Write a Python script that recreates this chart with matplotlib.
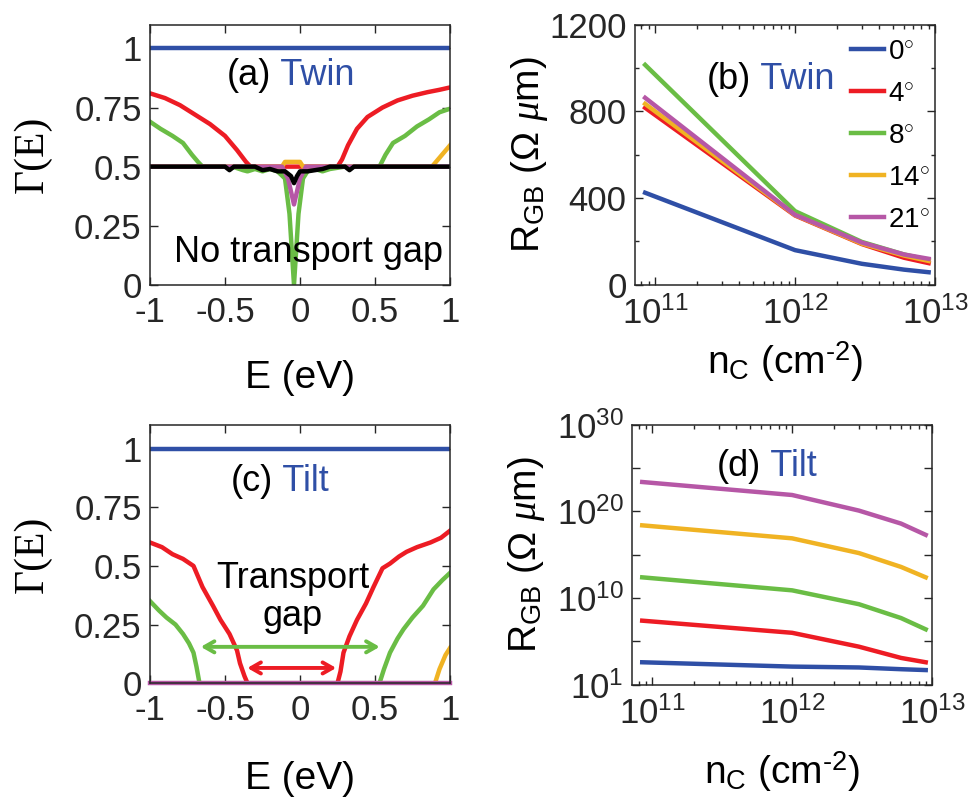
import numpy as np
import matplotlib
matplotlib.use("Agg")
import matplotlib.pyplot as plt
from matplotlib.ticker import FixedLocator, FixedFormatter

plt.rcParams['font.family'] = ['Liberation Sans', 'DejaVu Sans']
plt.rcParams['mathtext.fontset'] = 'custom'
plt.rcParams['mathtext.rm'] = 'Liberation Sans'
plt.rcParams['mathtext.sf'] = 'Liberation Sans'
plt.rcParams['mathtext.it'] = 'Liberation Serif:italic'

# colours (MATLAB-like)
c_blue = '#2F4FA6'
c_red = '#ED1C24'
c_green = '#6ABD45'
c_orange = '#F0B323'
c_purple = '#B657A6'
c_axis = '#262626'

angles = ['0', '4', '8', '14', '21']

# ---- (a) Twin: transmission vs energy ----
a_red_E = [-1, -0.9, -0.8, -0.7, -0.6, -0.5, -0.42, -0.36, -0.33, 0.25, 0.28, 0.32, 0.38, 0.45, 0.55, 0.65, 0.75, 0.85, 0.93, 1]
a_red_G = [0.81, 0.79, 0.76, 0.72, 0.68, 0.63, 0.57, 0.52, 0.50, 0.50, 0.53, 0.59, 0.66, 0.71, 0.75, 0.78, 0.80, 0.815, 0.825, 0.835]
a_green_E = [-1, -0.93, -0.85, -0.78, -0.72, -0.68, -0.65, -0.45, -0.38, -0.35, -0.3, -0.25, -0.2, -0.15, -0.1, -0.07,
             -0.04, -0.01, 0.02, 0.05, 0.1, 0.15, 0.2, 0.3, 0.53, 0.57, 0.62, 0.7, 0.78, 0.86, 0.93, 1]
a_green_G = [0.69, 0.66, 0.63, 0.60, 0.55, 0.52, 0.50, 0.50, 0.485, 0.48, 0.49, 0.48, 0.49, 0.48, 0.45, 0.30,
             0.0, 0.30, 0.45, 0.48, 0.49, 0.48, 0.49, 0.50, 0.50, 0.55, 0.60, 0.63, 0.67, 0.70, 0.73, 0.745]
a_orange_E = [-1, -0.12, -0.1, 0.0, 0.02, 0.88, 0.92, 0.96, 1]
a_orange_G = [0.5, 0.5, 0.52, 0.52, 0.5, 0.5, 0.53, 0.56, 0.59]
a_purple_E = [-1, -0.12, -0.08, -0.04, 0.0, 0.04, 1]
a_purple_G = [0.5, 0.5, 0.45, 0.34, 0.45, 0.5, 0.5]
a_black_E = [-1, -0.5, -0.47, -0.44, -0.3, -0.25, -0.2, -0.15, -0.1, -0.06, -0.04, -0.02, 0.0, 0.05, 0.1, 0.15, 0.2, 0.3, 0.33, 0.36, 1]
a_black_G = [0.5, 0.5, 0.485, 0.5, 0.5, 0.485, 0.49, 0.48, 0.48, 0.46, 0.43, 0.46, 0.48, 0.48, 0.485, 0.49, 0.5, 0.5, 0.485, 0.5, 0.5]
a_blue_E = [-1, 1]
a_blue_G = [1, 1]

# ---- (c) Tilt: transmission vs energy ----
c_red_E = [-1, -0.92, -0.85, -0.78, -0.71, -0.65, -0.58, -0.53, -0.47, -0.42, -0.40, -0.37, -0.35, 0.25, 0.27, 0.29,
           0.33, 0.38, 0.44, 0.49, 0.55, 0.6, 0.66, 0.71, 0.78, 0.87, 0.94, 1]
c_red_G = [0.60, 0.58, 0.55, 0.53, 0.50, 0.41, 0.33, 0.27, 0.21, 0.14, 0.085, 0.03, 0.0, 0.0, 0.05, 0.13,
           0.20, 0.27, 0.34, 0.41, 0.49, 0.51, 0.54, 0.56, 0.58, 0.60, 0.62, 0.65]
c_green_E = [-1, -0.94, -0.89, -0.83, -0.78, -0.74, -0.71, -0.69, -0.67, 0.53, 0.56, 0.60, 0.65, 0.69, 0.75, 0.82, 0.89, 0.95, 1]
c_green_G = [0.35, 0.31, 0.28, 0.25, 0.21, 0.17, 0.13, 0.07, 0.0, 0.0, 0.06, 0.13, 0.19, 0.23, 0.28, 0.33, 0.40, 0.44, 0.47]
c_orange_E = [-1, 0.9, 0.93, 0.97, 1]
c_orange_G = [0, 0, 0.06, 0.12, 0.15]
c_purple_E = [-1, 1]
c_purple_G = [0, 0]
c_blue_E = [-1, 1]
c_blue_G = [1, 1]
gap_green = (-0.68, 0.55)
gap_red = (-0.37, 0.26)

# ---- (b) Twin: R_GB vs carrier density ----
n_c = [8.5e10, 1e12, 3e12, 6e12, 9e12]
b_R = {
    '0': [425, 160, 97, 70, 58],
    '4': [817, 320, 188, 125, 100],
    '8': [1015, 340, 198, 140, 115],
    '14': [835, 322, 190, 135, 110],
    '21': [863, 323, 195, 140, 120],
}
# ---- (d) Tilt: log10(R_GB) vs carrier density ----
d_logR = {
    '0': [2.6, 2.1, 2.0, 1.8, 1.7],
    '4': [7.4, 6.0, 4.4, 3.1, 2.6],
    '8': [12.4, 10.9, 9.3, 7.7, 6.4],
    '14': [18.4, 16.9, 15.2, 13.6, 12.4],
    '21': [23.4, 21.9, 20.1, 18.6, 17.3],
}
cols = {'0': c_blue, '4': c_red, '8': c_green, '14': c_orange, '21': c_purple}

lw = 3.2
fs_tick = 25
fs_lab = 28
fs_txt = 26

fig = plt.figure(figsize=(9.74, 8.0), dpi=100)
ax_a = fig.add_axes([0.154, 0.644, 0.308, 0.325])
ax_b = fig.add_axes([0.652, 0.644, 0.308, 0.325])
ax_c = fig.add_axes([0.154, 0.146, 0.308, 0.3225])
ax_d = fig.add_axes([0.649, 0.144, 0.308, 0.325])


def style(ax):
    for s in ax.spines.values():
        s.set_color(c_axis)
        s.set_linewidth(1.1)
    ax.tick_params(which='both', direction='in', top=True, right=True,
                   colors=c_axis, labelsize=fs_tick, width=1.0)
    ax.tick_params(which='major', length=6)
    ax.tick_params(which='minor', length=3)
    ax.tick_params(axis='x', pad=8)
    ax.tick_params(axis='y', pad=6)


def label_pair(ax, x, y, head, word, **kw):
    t = ax.text(x, y, head, fontsize=fs_txt, color='black', va='center', ha='left', **kw)
    ax.annotate(' ' + word, xy=(1, 0.5), xycoords=t, va='center', ha='left',
                fontsize=fs_txt, color=c_blue)


# panel (a)
ax_a.plot(a_blue_E, a_blue_G, color=c_blue, lw=lw)
ax_a.plot(a_red_E, a_red_G, color=c_red, lw=lw)
ax_a.plot(a_green_E, a_green_G, color=c_green, lw=lw)
ax_a.plot(a_orange_E, a_orange_G, color=c_orange, lw=lw)
ax_a.plot(a_purple_E, a_purple_G, color=c_purple, lw=lw)
ax_a.plot(a_black_E, a_black_G, color='black', lw=lw)
ax_a.set_xlim(-1, 1)
ax_a.set_ylim(0, 1.1)
ax_a.set_xticks([-1, -0.5, 0, 0.5, 1])
ax_a.set_xticklabels(['-1', '-0.5', '0', '0.5', '1'])
ax_a.set_yticks([0, 0.25, 0.5, 0.75, 1])
ax_a.set_yticklabels(['0', '0.25', '0.5', '0.75', '1'])
label_pair(ax_a, -0.49, 0.885, '(a)', 'Twin')
ax_a.text(-0.84, 0.135, 'No transport gap', fontsize=fs_txt, va='center', ha='left')
ax_a.set_xlabel('E (eV)', fontsize=fs_lab)
ax_a.set_ylabel('Γ(E)', fontsize=30, family='Liberation Serif')

# panel (c)
ax_c.plot(c_blue_E, c_blue_G, color=c_blue, lw=lw)
ax_c.plot(c_red_E, c_red_G, color=c_red, lw=lw)
ax_c.plot(c_green_E, c_green_G, color=c_green, lw=lw)
ax_c.plot(c_orange_E, c_orange_G, color=c_orange, lw=lw)
ax_c.plot(c_purple_E, c_purple_G, color=c_purple, lw=lw, clip_on=False)
ax_c.annotate('', xy=(gap_green[0], 0.155), xytext=(gap_green[1], 0.155),
              arrowprops=dict(arrowstyle='<->,head_length=0.7,head_width=0.4', color=c_green, lw=2.8))
ax_c.annotate('', xy=(gap_red[0], 0.065), xytext=(gap_red[1], 0.065),
              arrowprops=dict(arrowstyle='<->,head_length=0.7,head_width=0.4', color=c_red, lw=2.8))
ax_c.text(-0.05, 0.365, 'Transport\ngap', fontsize=fs_txt, ha='center', va='center', linespacing=1.1)
label_pair(ax_c, -0.46, 0.86, '(c)', 'Tilt')
ax_c.set_xlim(-1, 1)
ax_c.set_ylim(0, 1.1)
ax_c.set_xticks([-1, -0.5, 0, 0.5, 1])
ax_c.set_xticklabels(['-1', '-0.5', '0', '0.5', '1'])
ax_c.set_yticks([0, 0.25, 0.5, 0.75, 1])
ax_c.set_yticklabels(['0', '0.25', '0.5', '0.75', '1'])
ax_c.set_xlabel('E (eV)', fontsize=fs_lab)
ax_c.set_ylabel('Γ(E)', fontsize=30, family='Liberation Serif')

# panel (b)
for a in angles:
    ax_b.plot(n_c, b_R[a], color=cols[a], lw=lw, label=a + r'$^{\circ}$')
ax_b.set_xscale('log')
ax_b.set_xlim(7.2e10, 1e13)
ax_b.set_ylim(0, 1200)
ax_b.set_yticks([0, 400, 800, 1200])
ax_b.set_yticks([200, 600, 1000], minor=True)
ax_b.set_xticks([1e11, 1e12, 1e13])
label_pair(ax_b, 10 ** 11.37, 946, '(b)', 'Twin')
leg = ax_b.legend(loc='upper right', bbox_to_anchor=(1.03, 1.0), frameon=False, fontsize=20,
                  handlelength=1.2, handletextpad=0.15, labelspacing=0.58, borderaxespad=0.1)
ax_b.set_xlabel(r'n$_{\rm C}$ (cm$^{\text{-2}}$)', fontsize=fs_lab)
ax_b.set_ylabel(r'R$_{\rm GB}$ ($\mathit{\Omega}$ $\mathit{\mu}$m)', fontsize=fs_lab)

# panel (d)
for a in angles:
    ax_d.plot(n_c, 10 ** np.array(d_logR[a]), color=cols[a], lw=lw)
ax_d.set_xscale('log')
ax_d.set_yscale('log')
ax_d.set_xlim(7.2e10, 1e13)
ax_d.set_ylim(1, 1e30)
ax_d.set_xticks([1e11, 1e12, 1e13])
ax_d.yaxis.set_major_locator(FixedLocator([1, 1e10, 1e20, 1e30]))
ax_d.yaxis.set_major_formatter(FixedFormatter([r'$\mathdefault{10^{1}}$', r'$\mathdefault{10^{10}}$',
                                               r'$\mathdefault{10^{20}}$', r'$\mathdefault{10^{30}}$']))
ax_d.yaxis.set_minor_locator(FixedLocator([1e5, 1e15, 1e25]))
ax_d.yaxis.set_minor_formatter(FixedFormatter(['', '', '']))
label_pair(ax_d, 10 ** 11.46, 10 ** 25.2, '(d)', 'Tilt')
ax_d.set_xlabel(r'n$_{\rm C}$ (cm$^{\text{-2}}$)', fontsize=fs_lab)
ax_d.set_ylabel(r'R$_{\rm GB}$ ($\mathit{\Omega}$ $\mathit{\mu}$m)', fontsize=fs_lab)

for ax in (ax_a, ax_b, ax_c, ax_d):
    style(ax)
ax_d.tick_params(axis='y', which='minor', length=6)

ax_a.yaxis.set_label_coords(-0.327, 0.5)
ax_c.yaxis.set_label_coords(-0.327, 0.5)
ax_b.yaxis.set_label_coords(-0.283, 0.5)
ax_d.yaxis.set_label_coords(-0.283, 0.5)
ax_a.xaxis.set_label_coords(0.5, -0.29)
ax_c.xaxis.set_label_coords(0.5, -0.30)
ax_b.xaxis.set_label_coords(0.5, -0.21)
ax_d.xaxis.set_label_coords(0.5, -0.25)

fig.savefig('out.png', dpi=100)
